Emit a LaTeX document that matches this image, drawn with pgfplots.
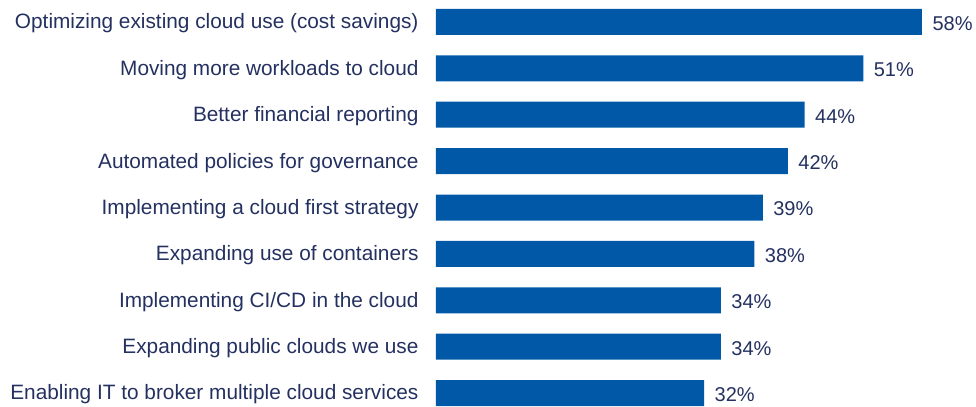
\documentclass[border=0pt]{standalone}
\usepackage{fontspec}
\setmainfont{Liberation Sans}
\usepackage{pgfplots}
\pgfplotsset{compat=1.18}
\definecolor{barblue}{HTML}{0058A6}
\definecolor{navytext}{HTML}{243160}
\begin{document}
\begin{tikzpicture}[x=1pt,y=1pt]
\begin{axis}[
  name=ax,
  xbar,
  scale only axis,
  width=486pt, height=406pt,
  xmin=0, xmax=58,
  ymin=-0.474, ymax=8.28,
  y dir=reverse,
  axis line style={draw=none},
  xtick=\empty,
  ytick={0,...,8},
  major tick length=0pt,
  yticklabels={
    Optimizing existing cloud use (cost savings),
    Moving more workloads to cloud,
    Better financial reporting,
    Automated policies for governance,
    Implementing a cloud first strategy,
    Expanding use of containers,
    Implementing CI/CD in the cloud,
    Expanding public clouds we use,
    Enabling IT to broker multiple cloud services},
  yticklabel style={font=\fontsize{20.8}{23}\selectfont, text=navytext, anchor=east, yshift=-1.5pt},
  yticklabel shift=14pt,
  bar width=26pt,
  clip=false,
  nodes near coords={\pgfmathprintnumber[assume math mode=true]{\pgfplotspointmeta}\%},
  nodes near coords style={font=\fontsize{20}{22}\selectfont, text=navytext, anchor=west, xshift=7pt, yshift=-1.5pt},
]
\addplot[fill=barblue, draw=none] coordinates {
  (58,0) (51,1) (44,2) (42,3) (39,4) (38,5) (34,6) (34,7) (32,8)
};
\end{axis}
\pgfresetboundingbox
\path ([xshift=-436pt]ax.south west) rectangle ([xshift=54pt]ax.north east);
\end{tikzpicture}
\end{document}
